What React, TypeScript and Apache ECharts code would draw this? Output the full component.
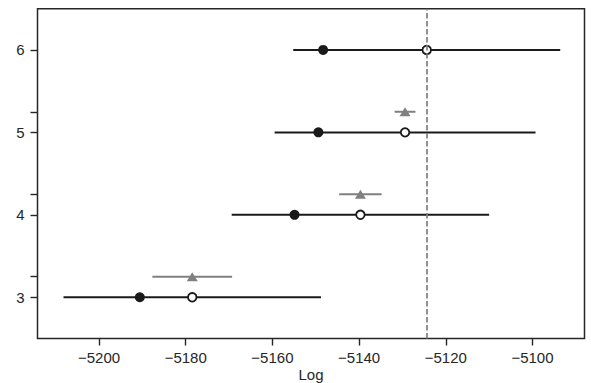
import React, { useEffect, useRef } from "react";
import * as echarts from "echarts";

// model rows (y positions) and values
const rows = [6, 5, 4, 3];
const elpdLoo = [-5124.4, -5129.4, -5139.7, -5178.5];
const elpdInSample = [-5148.3, -5149.4, -5154.9, -5190.6];
const seValues = [30.8, 30.1, 29.7, 29.7];

// difference rows (offset) with their centres and dse
const dseRows = [5.25, 4.25, 3.25];
const dseCenters = [-5129.4, -5139.7, -5178.5];
const dseValues = [2.4, 4.9, 9.2];

const bestElpd = -5124.4;

const xTicks = [-5200, -5180, -5160, -5140, -5120, -5100];
const yLabelTicks = [3, 4, 5, 6];
const yAllTicks = [3, 3.25, 4, 4.25, 5, 5.25, 6];
const xLabel = "Log";

const TEXT = "#262626";
const FONT = "Liberation Sans, Arial, sans-serif";

function hbar(color: string, width: number) {
  return (params: any, api: any) => {
    const lo = api.value(0);
    const y = api.value(1);
    const hi = api.value(2);
    const p1 = api.coord([lo, y]);
    const p2 = api.coord([hi, y]);
    return {
      type: "line",
      shape: { x1: p1[0], y1: p1[1], x2: p2[0], y2: p2[1] },
      style: { stroke: color, lineWidth: width },
    };
  };
}

export default function App() {
  const ref = useRef<HTMLDivElement>(null);
  useEffect(() => {
    if (!ref.current) return;
    const chart = echarts.init(ref.current, undefined, { renderer: "svg" });
    const seData = rows.map((y, i) => [elpdLoo[i] - seValues[i], y, elpdLoo[i] + seValues[i]]);
    const dseData = dseRows.map((y, i) => [dseCenters[i] - dseValues[i], y, dseCenters[i] + dseValues[i]]);
    chart.setOption({
      animation: false,
      graphic: [
        {
          type: "text",
          x: 311,
          y: 382,
          style: {
            text: xLabel,
            fill: TEXT,
            fontSize: 15,
            fontFamily: FONT,
            align: "center",
            verticalAlign: "bottom",
          },
        },
      ],
      grid: {
        left: 37.5,
        right: 6.5,
        top: 8.7,
        bottom: 44.5,
        containLabel: false,
        outerBoundsMode: "none",
        show: true,
        borderColor: TEXT,
        borderWidth: 1.5,
        backgroundColor: "transparent",
      },
      xAxis: {
        type: "value",
        min: -5214.2,
        max: -5088,
        axisLine: { show: false },
        splitLine: { show: false },
        axisTick: { show: true, length: 7, lineStyle: { color: TEXT, width: 1.4 }, customValues: xTicks },
        axisLabel: {
          color: TEXT,
          fontSize: 15,
          fontFamily: FONT,
          margin: 11,
          customValues: xTicks,
          formatter: (v: number) => String(v).replace("-", "\u2212"),
        },
      },
      yAxis: {
        type: "value",
        min: 2.5,
        max: 6.5,
        axisLine: { show: false },
        splitLine: { show: false },
        axisTick: { show: true, length: 7, lineStyle: { color: TEXT, width: 1.4 }, customValues: yAllTicks },
        axisLabel: {
          color: TEXT,
          fontSize: 15,
          fontFamily: FONT,
          margin: 13,
          customValues: yLabelTicks,
        },
      },
      series: [
        {
          type: "custom",
          renderItem: hbar("#1a1a1a", 2),
          data: seData,
          z: 2,
          markLine: {
            silent: true,
            symbol: "none",
            label: { show: false },
            lineStyle: { color: "#7f7f7f", width: 1.7, type: [5.5, 2.5] },
            data: [{ xAxis: bestElpd }],
          },
        },
        {
          type: "custom",
          renderItem: hbar("#808080", 2),
          data: dseData,
          z: 2,
        },
        {
          type: "scatter",
          data: rows.map((y, i) => [elpdInSample[i], y]),
          symbol: "circle",
          symbolSize: 10,
          itemStyle: { color: "#1a1a1a", opacity: 1 },
          z: 3,
        },
        {
          type: "scatter",
          data: rows.map((y, i) => [elpdLoo[i], y]),
          symbol: "circle",
          symbolSize: 8.5,
          itemStyle: { color: "#ffffff", borderColor: "#1a1a1a", borderWidth: 1.8, opacity: 1 },
          z: 4,
        },
        {
          type: "scatter",
          data: dseRows.map((y, i) => [dseCenters[i], y]),
          symbol: "triangle",
          symbolSize: [11, 9],
          itemStyle: { color: "#808080", opacity: 1 },
          z: 4,
        },
      ],
    });
    return () => chart.dispose();
  }, []);
  return (
    <div
      ref={ref}
      style={{ position: "fixed", left: 0, top: 0, width: 591, height: 383, background: "#fff" }}
    />
  );
}
